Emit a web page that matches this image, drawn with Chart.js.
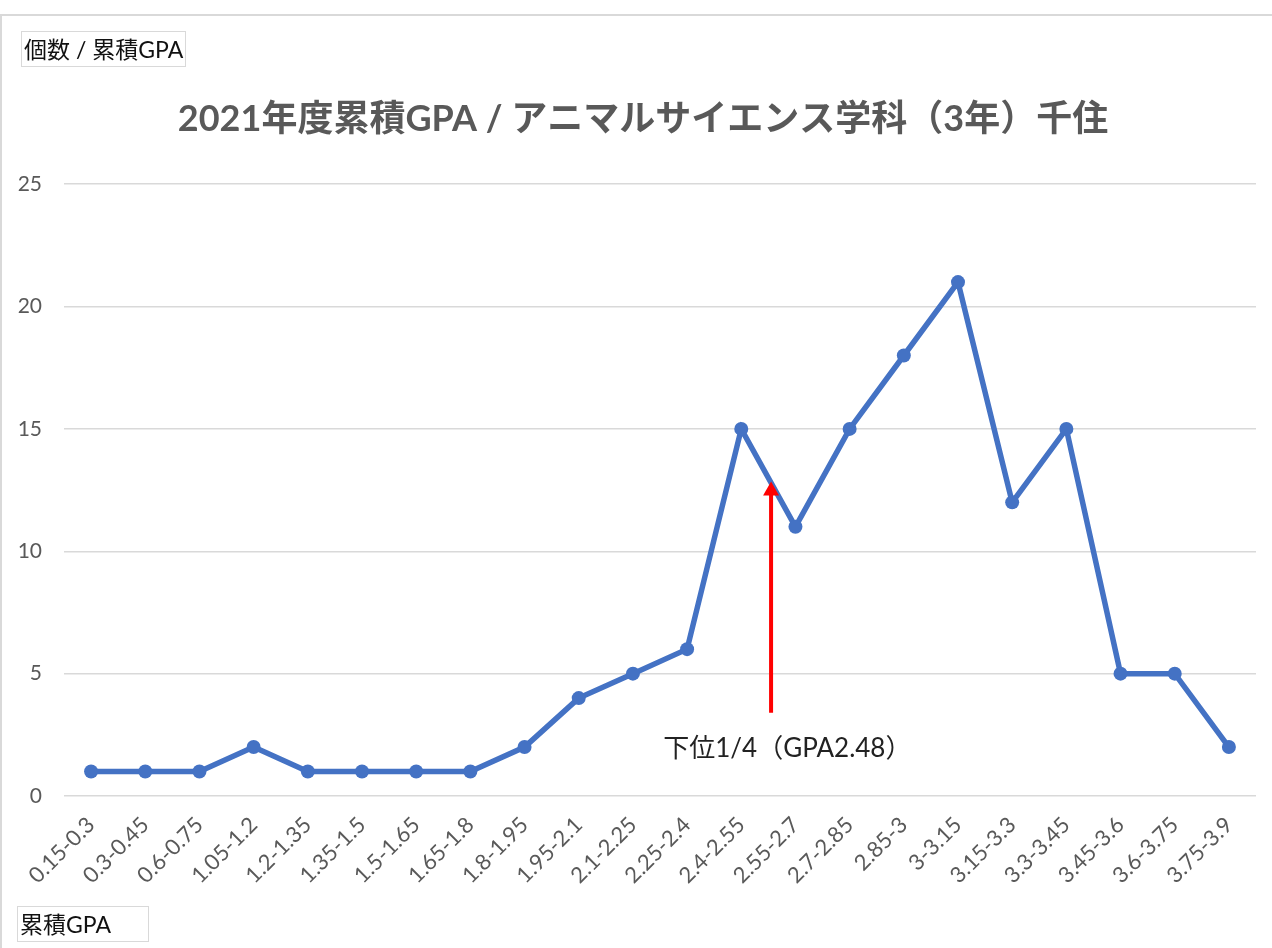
<!DOCTYPE html>
<html>
<head>
<meta charset="utf-8">
<script src="https://cdn.jsdelivr.net/npm/chart.js@4"></script>
<style>
  body { margin: 0; background: #fff; }
  #wrap { position: relative; width: 1272px; height: 948px; overflow: hidden; }
  #frame { position: absolute; left: 0; top: 14px; width: 1300px; height: 960px;
           border-top: 2px solid #d9d9d9; border-left: 2px solid #d9d9d9; }
  .box { position: absolute; border: 1.5px solid #d9d9d9; color: #111;
         font-family: Lato, 'Noto Sans CJK JP', sans-serif; font-size: 23px;
         line-height: 34px; padding: 0 2px; white-space: nowrap; }
  canvas { position: absolute; left: 0; top: 0; }
</style>
</head>
<body>
<div id="wrap">
  <div id="frame"></div>
  <canvas id="chart" width="1272" height="948"></canvas>
  <div class="box" style="left:21px; top:31px;">個数 / 累積GPA</div>
  <div class="box" style="left:17px; top:906px; width:126px;">累積GPA</div>
</div>
<script>
// chart data
const gpaRanges = ['0.15-0.3', '0.3-0.45', '0.6-0.75', '1.05-1.2', '1.2-1.35', '1.35-1.5',
    '1.5-1.65', '1.65-1.8', '1.8-1.95', '1.95-2.1', '2.1-2.25', '2.25-2.4', '2.4-2.55',
    '2.55-2.7', '2.7-2.85', '2.85-3', '3-3.15', '3.15-3.3', '3.3-3.45', '3.45-3.6',
    '3.6-3.75', '3.75-3.9'];
const counts = [1, 1, 1, 2, 1, 1, 1, 1, 2, 4, 5, 6, 15, 11, 15, 18, 21, 12, 15, 5, 5, 2];
const yTicks = [0, 5, 10, 15, 20, 25];

// lower quartile marker, in data units (category index / count)
const quartileLabel = '下位1/4（GPA2.48）';
const quartileArrow = { x: 12.55, from: 3.4, to: 12.85 };
const quartileText = { x: 12.85, y: 1.95 };

const latinFont = "Lato, 'Noto Sans CJK JP', sans-serif";

// draws the red arrow and its caption through the chart scales
const quartilePlugin = {
    id: 'quartile',
    afterLayout(chart) {
        // nudge the title a little right, like the original
        chart.titleBlock.left += 30;
    },
    afterDatasetsDraw(chart) {
        const { ctx, scales: { x, y } } = chart;
        const px = x.getPixelForValue(quartileArrow.x);
        const yBase = y.getPixelForValue(quartileArrow.from);
        const yTip = y.getPixelForValue(quartileArrow.to);
        ctx.save();
        ctx.strokeStyle = '#ff0000';
        ctx.fillStyle = '#ff0000';
        ctx.lineWidth = 4;
        ctx.beginPath();
        ctx.moveTo(px, yBase);
        ctx.lineTo(px, yTip + 12);
        ctx.stroke();
        ctx.beginPath();
        ctx.moveTo(px, yTip);
        ctx.lineTo(px - 8, yTip + 14);
        ctx.lineTo(px + 8, yTip + 14);
        ctx.closePath();
        ctx.fill();

        ctx.fillStyle = '#222';
        ctx.font = '26px ' + latinFont;
        ctx.textAlign = 'center';
        ctx.textBaseline = 'middle';
        ctx.fillText(quartileLabel, x.getPixelForValue(quartileText.x), y.getPixelForValue(quartileText.y));
        ctx.restore();
    }
};

const ctx = document.getElementById('chart').getContext('2d');
new Chart(ctx, {
    type: 'line',
    data: {
        labels: gpaRanges,
        datasets: [{
            data: counts,
            borderColor: '#4472C4',
            backgroundColor: '#4472C4',
            borderWidth: 5.5,
            pointRadius: 7,
            pointBorderWidth: 0,
            pointBackgroundColor: '#4472C4',
            tension: 0
        }]
    },
    options: {
        responsive: false,
        animation: false,
        devicePixelRatio: 1,
        layout: { padding: { left: 0, right: 16, top: 0, bottom: 0 } },
        plugins: {
            legend: { display: false },
            tooltip: { enabled: false },
            title: {
                display: true,
                text: '2021年度累積GPA / アニマルサイエンス学科（3年）千住',
                color: '#595959',
                font: { family: latinFont, size: 36, weight: 'bold', lineHeight: 1.2 },
                padding: { top: 98, bottom: 43 }
            }
        },
        scales: {
            x: {
                offset: true,
                grid: { display: false },
                border: { display: false },
                ticks: {
                    color: '#595959',
                    font: { family: latinFont, size: 22 },
                    minRotation: 45,
                    maxRotation: 45,
                    padding: 8
                },
                afterFit(scale) { scale.height = 152; }
            },
            y: {
                min: 0,
                max: 25,
                border: { display: false },
                grid: { color: '#d9d9d9', lineWidth: 1.5, drawTicks: false },
                afterBuildTicks(scale) { scale.ticks = yTicks.map(v => ({ value: v })); },
                ticks: {
                    color: '#595959',
                    font: { family: latinFont, size: 21 },
                    padding: 22
                },
                afterFit(scale) { scale.width = 64; }
            }
        }
    },
    plugins: [quartilePlugin]
});
</script>
</body>
</html>
